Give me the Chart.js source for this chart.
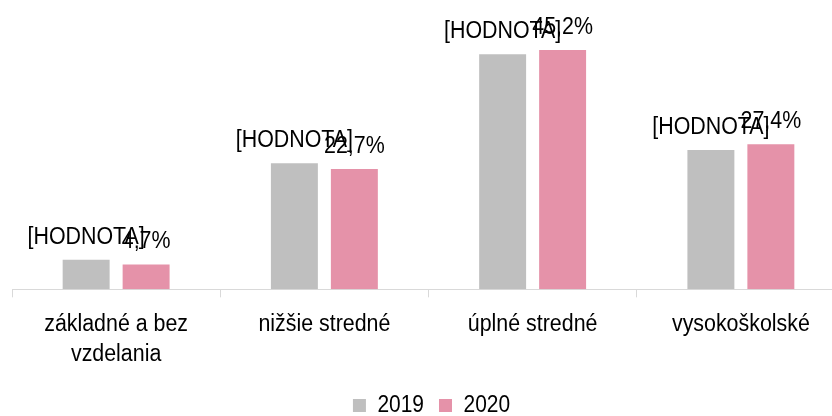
<!DOCTYPE html>
<html>
<head>
<meta charset="utf-8">
<script src="https://cdn.jsdelivr.net/npm/chart.js@4/dist/chart.umd.min.js"></script>
<style>
  html, body { margin: 0; padding: 0; background: #fff; overflow: hidden; width: 832px; height: 416px; }
  #wrap { width: 876px; height: 427px; }
</style>
</head>
<body>
<div id="wrap"><canvas id="c" width="876" height="427"></canvas></div>
<script>
const categories = [['základné a bez', 'vzdelania'], 'nižšie stredné', 'úplné stredné', 'vysokoškolské'];
const seriesNames = ['2019', '2020'];
const values2019 = [5.6, 23.8, 44.4, 26.3];
const values2020 = [4.7, 22.7, 45.2, 27.4];
const labelText2019 = ['[HODNOTA]', '[HODNOTA]', '[HODNOTA]', '[HODNOTA]'];
const labelText2020 = values2020.map(v => v.toFixed(1).replace('.', ',') + '%');
const colors = ['#bfbfbf', '#e592a9'];

const FONT = "'Liberation Sans', Arial, sans-serif";

// The reference text is slightly condensed: draw real text with a horizontal squeeze.
const canvas = document.getElementById('c');
const c2d = canvas.getContext('2d');
const SX = 0.91;
const origFill = c2d.fillText.bind(c2d);
const origMeasure = c2d.measureText.bind(c2d);
c2d.fillText = function (text, x, y, maxWidth) {
  this.save();
  this.translate(x, y);
  this.scale(SX, 1);
  if (maxWidth !== undefined) origFill(text, 0, 0, maxWidth / SX); else origFill(text, 0, 0);
  this.restore();
};
c2d.measureText = function (text) {
  const m = origMeasure(text);
  return {
    width: m.width * SX,
    actualBoundingBoxAscent: m.actualBoundingBoxAscent,
    actualBoundingBoxDescent: m.actualBoundingBoxDescent,
    actualBoundingBoxLeft: m.actualBoundingBoxLeft * SX,
    actualBoundingBoxRight: m.actualBoundingBoxRight * SX,
    fontBoundingBoxAscent: m.fontBoundingBoxAscent,
    fontBoundingBoxDescent: m.fontBoundingBoxDescent
  };
};

const barLabels = {
  id: 'barLabels',
  afterDatasetsDraw(chart) {
    const ctx = chart.ctx;
    ctx.save();
    ctx.font = '23.5px ' + FONT;
    ctx.fillStyle = '#000';
    ctx.textAlign = 'center';
    ctx.textBaseline = 'alphabetic';
    const texts = [labelText2019, labelText2020];
    chart.data.datasets.forEach((ds, di) => {
      const meta = chart.getDatasetMeta(di);
      meta.data.forEach((el, i) => {
        ctx.fillText(texts[di][i], el.x, el.y - 16);
      });
    });
    ctx.restore();
  }
};

const legendShift = {
  id: 'legendShift',
  afterLayout(chart) {
    if (chart.legend) { chart.legend.left += 3; chart.legend.right += 3; }
  }
};

new Chart(canvas, {
  type: 'bar',
  data: {
    labels: categories,
    datasets: [
      { label: seriesNames[0], data: values2019, backgroundColor: colors[0], borderWidth: 0 },
      { label: seriesNames[1], data: values2020, backgroundColor: colors[1], borderWidth: 0 }
    ]
  },
  options: {
    responsive: false,
    devicePixelRatio: 1,
    animation: false,
    categoryPercentage: 0.576,
    barPercentage: 0.783,
    layout: { padding: { top: 24.5, left: 12, right: 31, bottom: 0 } },
    plugins: {
      legend: {
        position: 'bottom',
        labels: {
          boxWidth: 13,
          boxHeight: 13,
          padding: 15,
          color: '#000',
          font: { size: 23, family: FONT }
        }
      },
      tooltip: { enabled: false }
    },
    scales: {
      y: { display: false, min: 0, max: 50 },
      x: {
        afterFit(scale) { scale.height -= 2.5; },
        grid: { offset: true, drawOnChartArea: false, drawTicks: true, tickLength: 8, color: '#d9d9d9', lineWidth: 1 },
        border: { display: true, color: '#d9d9d9', width: 1 },
        ticks: {
          color: '#000',
          padding: 12,
          maxRotation: 0,
          autoSkip: false,
          font: { size: 23.5, family: FONT, lineHeight: 1.28 }
        }
      }
    }
  },
  plugins: [barLabels, legendShift]
});
</script>
</body>
</html>
